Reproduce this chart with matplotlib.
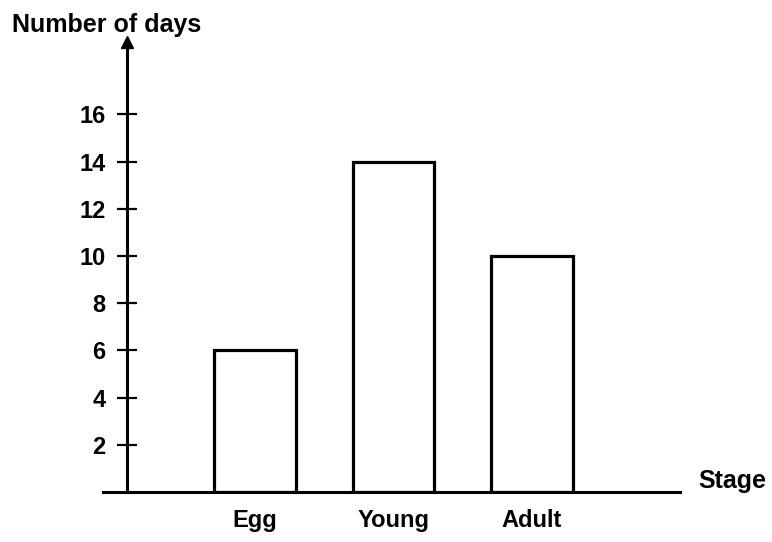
import matplotlib.pyplot as plt

# data
stages = ['Egg', 'Young', 'Adult']
days = [6, 14, 10]
yticks = [2, 4, 6, 8, 10, 12, 14, 16]

plt.rcParams['font.family'] = ['Liberation Sans', 'DejaVu Sans']
plt.rcParams['font.weight'] = 'bold'

fig = plt.figure(figsize=(7.72, 5.42), dpi=100)
W, H = 772, 542
# axes box in pixel terms: left 103, right 680, bottom y=492, top y=42
ax = fig.add_axes([103 / W, 50 / H, 577 / W, 450 / H])

pos = [1, 2, 3]
ax.bar(pos, days, width=0.59, facecolor='white', edgecolor='black', linewidth=2.3)

ax.set_xlim(-0.097, 4.07)
ax.set_ylim(0, 19.07)
yaxis_x = 0.076

for s in ['top', 'right']:
    ax.spines[s].set_visible(False)
ax.spines['left'].set_position(('data', yaxis_x))
ax.spines['left'].set_linewidth(2.2)
ax.spines['bottom'].set_linewidth(2.2)

# arrow head on the y axis
ax.plot(yaxis_x, 1, marker='^', color='black', markersize=9,
        transform=ax.get_xaxis_transform(), clip_on=False)

ax.set_yticks(yticks)
ax.set_yticklabels([str(t) for t in yticks])
ax.tick_params(axis='y', direction='inout', length=15, width=1.6, pad=8, labelsize=17)

ax.set_xticks(pos)
ax.set_xticklabels(stages)
ax.tick_params(axis='x', length=0, pad=12, labelsize=17)

fig.text(12 / W, 510 / H, 'Number of days', fontsize=18, fontweight='bold',
         ha='left', va='baseline')
fig.text(698 / W, 54 / H, 'Stage', fontsize=18, fontweight='bold',
         ha='left', va='baseline')

fig.savefig('out.png', dpi=100)
